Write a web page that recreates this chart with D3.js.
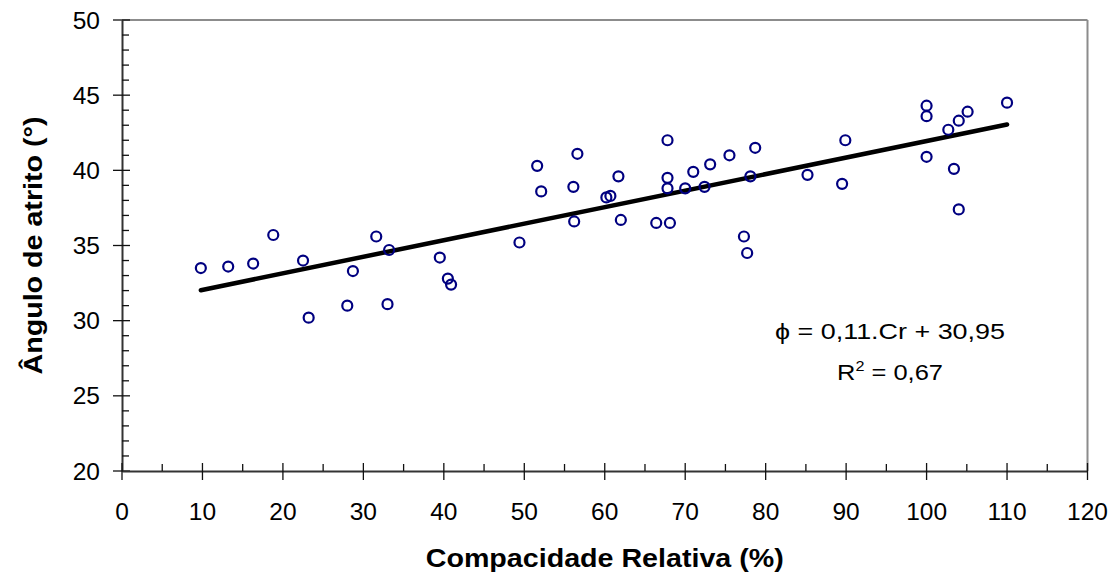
<!DOCTYPE html>
<html>
<head>
<meta charset="utf-8">
<script src="https://cdn.jsdelivr.net/npm/d3@7/dist/d3.min.js"></script>
<style>
  html, body { margin: 0; padding: 0; background: #fff; }
  svg { display: block; font-family: "Liberation Sans", Arial, sans-serif; }
</style>
</head>
<body>
<svg id="chart" width="1118" height="582"></svg>
<script>
// Data
const compacidade = [9.8, 13.2, 16.3, 18.8, 22.5, 23.2, 28.0, 28.7, 31.6, 33.2, 33.0, 39.5, 40.5, 40.9,
  49.4, 51.6, 52.1, 56.1, 56.2, 56.6, 60.2, 60.7, 61.7, 62.0, 66.4, 68.1, 67.8, 67.8, 67.8,
  70.0, 71.0, 72.4, 73.1, 75.5, 77.3, 77.7, 78.1, 78.7, 85.2, 89.5, 89.9,
  100.0, 100.0, 100.0, 102.7, 103.4, 104.0, 104.0, 105.1, 110.0];
const angulo = [33.5, 33.6, 33.8, 35.7, 34.0, 30.2, 31.0, 33.3, 35.6, 34.7, 31.1, 34.2, 32.8, 32.4,
  35.2, 40.3, 38.6, 38.9, 36.6, 41.1, 38.2, 38.3, 39.6, 36.7, 36.5, 36.5, 42.0, 39.5, 38.8,
  38.8, 39.9, 38.9, 40.4, 41.0, 35.6, 34.5, 39.6, 41.5, 39.7, 39.1, 42.0,
  44.3, 43.6, 40.9, 42.7, 40.1, 43.3, 37.4, 43.9, 44.5];
const regressao = { slope: 0.11, intercept: 30.95 };
const xTicks = [0, 10, 20, 30, 40, 50, 60, 70, 80, 90, 100, 110, 120];
const yTicks = [20, 25, 30, 35, 40, 45, 50];
const xMinorTicks = d3.range(5, 120, 10);
const yMinorTicks = d3.range(21, 50, 1).filter(v => v % 5 !== 0);
const xTitle = "Compacidade Relativa (%)";
const yTitle = "Ângulo de atrito (°)";
const eqLine1 = "ϕ = 0,11.Cr + 30,95";

const svg = d3.select("#chart");
const L = 122, R = 1087.5, T = 20, B = 471;
const x = d3.scaleLinear().domain([0, 120]).range([L, R]);
const y = d3.scaleLinear().domain([20, 50]).range([B, T]);

// frame (top & right, gray)
svg.append("line").attr("x1", L).attr("x2", R).attr("y1", T).attr("y2", T)
  .attr("stroke", "#8c8c8c").attr("stroke-width", 2);
svg.append("line").attr("x1", R).attr("x2", R).attr("y1", T).attr("y2", B)
  .attr("stroke", "#8c8c8c").attr("stroke-width", 2);

// Y axis
const gy = svg.append("g").attr("transform", `translate(${L},0)`);
gy.call(d3.axisLeft(y).tickValues(yTicks).tickSize(0).tickFormat(""))
  .call(g => g.select(".domain").attr("stroke", "#333").attr("stroke-width", 2));
gy.selectAll(".major").data(yTicks).join("line").attr("class", "major")
  .attr("x1", -9).attr("x2", 8).attr("y1", d => y(d)).attr("y2", d => y(d))
  .attr("stroke", "#111").attr("stroke-width", 1.3);
gy.selectAll(".minor").data(yMinorTicks).join("line").attr("class", "minor")
  .attr("x1", 0).attr("x2", 7).attr("y1", d => y(d)).attr("y2", d => y(d))
  .attr("stroke", "#111").attr("stroke-width", 1.3);
gy.selectAll(".lab").data(yTicks).join("text").attr("class", "lab")
  .attr("x", -22).attr("y", d => y(d)).attr("dy", "0.35em")
  .attr("text-anchor", "end").attr("font-size", 24.5).attr("fill", "#000")
  .text(d => d);

// X axis
const gx = svg.append("g").attr("transform", `translate(0,${B})`);
gx.call(d3.axisBottom(x).tickValues(xTicks).tickSize(0).tickFormat(""))
  .call(g => g.select(".domain").attr("stroke", "#333").attr("stroke-width", 2));
gx.selectAll(".major").data(xTicks).join("line").attr("class", "major")
  .attr("x1", d => x(d)).attr("x2", d => x(d)).attr("y1", -8).attr("y2", 9)
  .attr("stroke", "#111").attr("stroke-width", 1.3);
gx.selectAll(".minor").data(xMinorTicks).join("line").attr("class", "minor")
  .attr("x1", d => x(d)).attr("x2", d => x(d)).attr("y1", -7).attr("y2", 0)
  .attr("stroke", "#111").attr("stroke-width", 1.3);
gx.selectAll(".lab").data(xTicks).join("text").attr("class", "lab")
  .attr("x", d => x(d)).attr("y", 48.5)
  .attr("text-anchor", "middle").attr("font-size", 24.5).attr("fill", "#000")
  .text(d => d);

// Titles
svg.append("text").attr("x", (L + R) / 2).attr("y", 567)
  .attr("text-anchor", "middle").attr("font-size", 25).attr("font-weight", "bold")
  .attr("textLength", 358).attr("lengthAdjust", "spacingAndGlyphs")
  .text(xTitle);
svg.append("text").attr("transform", `translate(42,${(T + B) / 2}) rotate(-90)`)
  .attr("text-anchor", "middle").attr("font-size", 25).attr("font-weight", "bold")
  .attr("textLength", 258).attr("lengthAdjust", "spacingAndGlyphs")
  .text(yTitle);

// Regression line
const xr = d3.extent(compacidade);
svg.append("line")
  .attr("x1", x(xr[0])).attr("y1", y(regressao.slope * xr[0] + regressao.intercept))
  .attr("x2", x(xr[1])).attr("y2", y(regressao.slope * xr[1] + regressao.intercept))
  .attr("stroke", "#000").attr("stroke-width", 4.5).attr("stroke-linecap", "round");

// Points
svg.selectAll(".pt").data(compacidade.map((c, i) => [c, angulo[i]])).join("circle")
  .attr("class", "pt")
  .attr("cx", d => x(d[0])).attr("cy", d => y(d[1])).attr("r", 5)
  .attr("fill", "none").attr("stroke", "#000080").attr("stroke-width", 2.2);

// Equation
svg.append("text").attr("x", 890).attr("y", 339).attr("text-anchor", "middle")
  .attr("font-size", 22).attr("textLength", 230).attr("lengthAdjust", "spacingAndGlyphs")
  .text(eqLine1);
const r2 = svg.append("text").attr("x", 890).attr("y", 380).attr("text-anchor", "middle")
  .attr("font-size", 22).attr("textLength", 106).attr("lengthAdjust", "spacingAndGlyphs");
r2.append("tspan").text("R");
r2.append("tspan").attr("dy", -9).attr("font-size", 14).text("2");
r2.append("tspan").attr("dy", 9).text(" = 0,67");
</script>
</body>
</html>
